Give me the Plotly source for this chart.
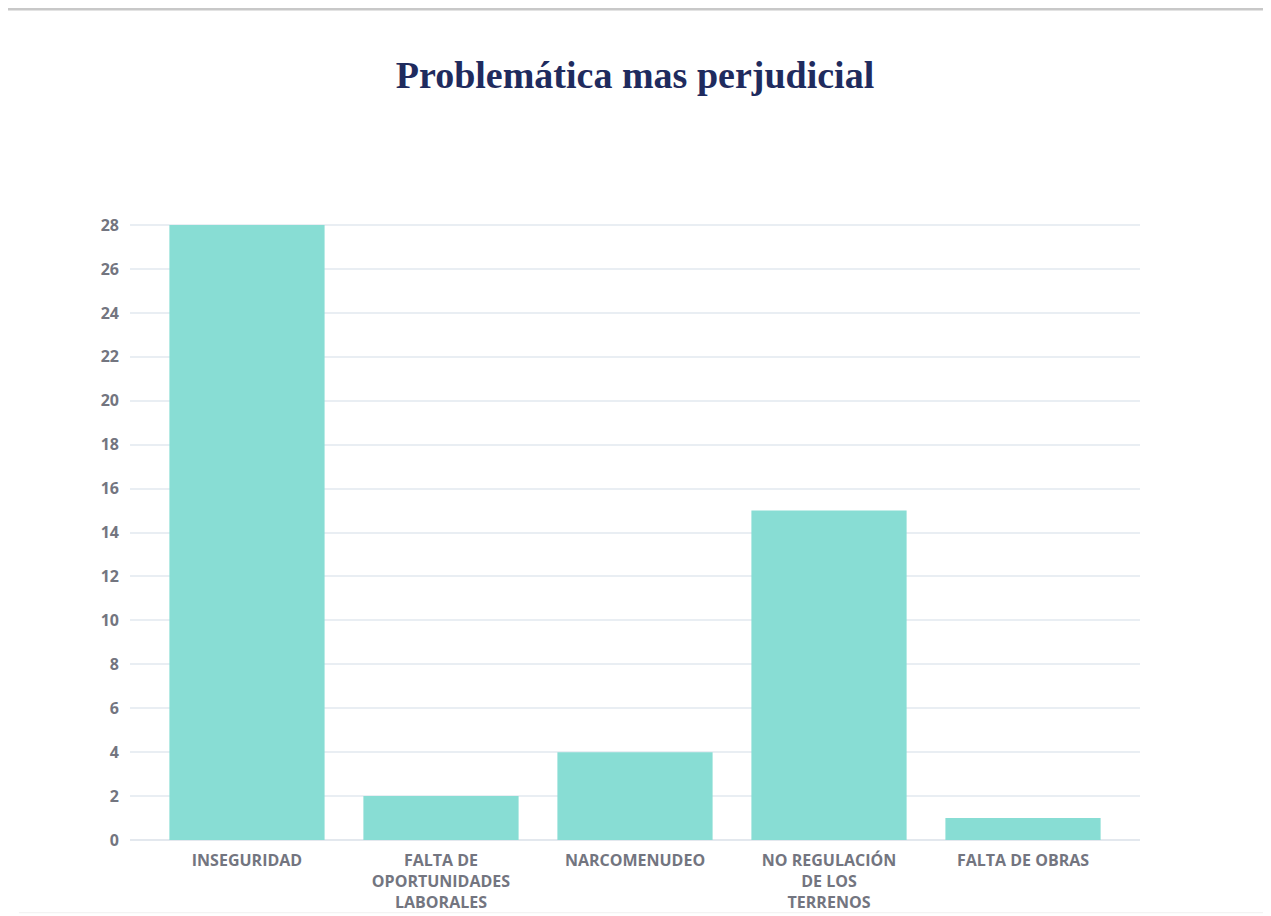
import plotly.graph_objects as go

categorias = [
    "INSEGURIDAD",
    "FALTA DE<br>OPORTUNIDADES<br>LABORALES",
    "NARCOMENUDEO",
    "NO REGULACIÓN<br>DE LOS<br>TERRENOS",
    "FALTA DE OBRAS",
]
valores = [28, 2, 4, 15, 1]
ticks_y = list(range(0, 29, 2))

fuente_ejes = dict(family="Open Sans, Lato, sans-serif", size=16, color="#737580", weight="bold")

fig = go.Figure()
fig.add_trace(go.Bar(
    x=list(range(len(categorias))),
    y=valores,
    marker=dict(color="#88ddd4", line=dict(width=0)),
    width=0.8,
))

fig.update_layout(
    width=1263, height=908,
    paper_bgcolor="white",
    plot_bgcolor="white",
    showlegend=False,
    margin=dict(l=122, r=131, t=216, b=76),
    title=dict(
        text="<b>Problemática mas perjudicial</b>",
        x=0.5, xanchor="center", xref="paper",
        y=0.926, yanchor="middle", yref="container",
        font=dict(family="Liberation Serif, Times New Roman, serif", size=38, color="#1f2b5e"),
    ),
    xaxis=dict(
        tickmode="array",
        tickvals=list(range(len(categorias))),
        ticktext=categorias,
        range=[-0.603, 4.603],
        showgrid=False,
        showline=False,
        zeroline=False,
        ticks="",
        automargin=False,
        ticklabelstandoff=9,
        tickfont=fuente_ejes,
    ),
    yaxis=dict(
        tickvals=ticks_y,
        range=[0, 28.05],
        showgrid=True,
        gridcolor="#e9eef3",
        gridwidth=2,
        zeroline=True,
        zerolinecolor="#e3e8ee",
        zerolinewidth=2,
        ticks="",
        automargin=False,
        ticklabelstandoff=10,
        tickfont=fuente_ejes,
    ),
    shapes=[
        dict(type="line", xref="paper", yref="paper", x0=-0.13, x1=1.125, y0=1.349, y1=1.349,
             line=dict(color="#c8c8c8", width=3)),
        dict(type="line", xref="paper", yref="paper", x0=1.125, x1=1.125, y0=1.349, y1=-0.117,
             line=dict(color="#c8c8c8", width=3)),
        dict(type="line", xref="paper", yref="paper", x0=-0.11, x1=1.125, y0=-0.118, y1=-0.118,
             line=dict(color="#f0f0f0", width=1)),
    ],
)

fig.write_html("out.html")
